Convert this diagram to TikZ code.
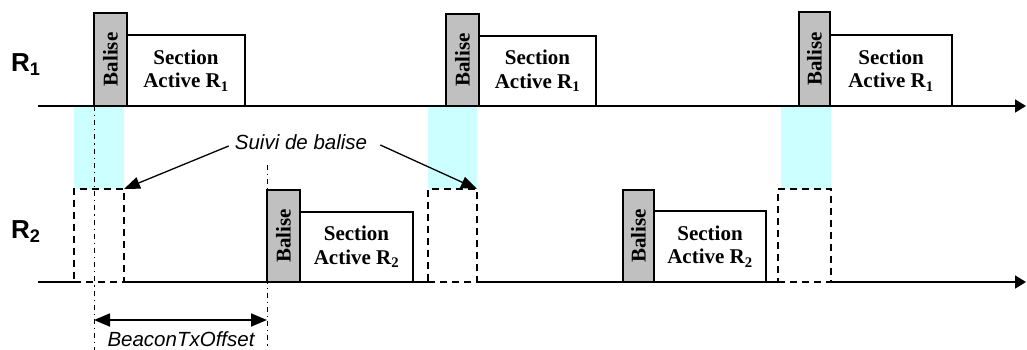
\documentclass[tikz,border=0pt]{standalone}
\usepackage{fontspec}
\setmainfont{Liberation Serif}
\setsansfont{Liberation Sans}
\usetikzlibrary{arrows.meta}
\definecolor{lightcyan}{HTML}{CCFFFF}
\definecolor{balgray}{HTML}{C0C0C0}
\tikzset{
  balisebox/.style={draw=black, line width=1.6pt, fill=balgray, inner sep=0pt, outer sep=0pt, anchor=south west, minimum width=33pt, minimum height=93pt},
  baltext/.style={rotate=90, font=\fontsize{21}{23}\selectfont\bfseries, inner sep=0pt},
  secbox/.style={draw=black, line width=1.6pt, fill=white, inner sep=0pt, outer sep=0pt, anchor=south west, align=center, minimum height=71pt, font=\fontsize{21}{23.5}\selectfont\bfseries},
  dashbox/.style={draw=black, line width=1.8pt, dash pattern=on 7pt off 5pt, inner sep=0pt, outer sep=0pt, anchor=south west, minimum height=93pt},
  cyanbox/.style={fill=lightcyan, draw=none, inner sep=0pt, outer sep=0pt, anchor=south west, minimum height=83pt},
  axis/.style={line width=1.8pt, -{Triangle[length=11pt,width=13pt]}},
  axseg/.style={line width=1.8pt},
  rlabel/.style={font=\fontsize{26}{28}\selectfont\sffamily\bfseries, anchor=base west, inner sep=0pt},
  note/.style={font=\fontsize{20.5}{22}\selectfont\sffamily\itshape, inner sep=0pt},
  ptr/.style={line width=1.3pt, -{Triangle[length=16pt,width=12pt]}},
  dimarrow/.style={line width=1.8pt, {Triangle[length=16pt,width=13pt]}-{Triangle[length=16pt,width=13pt]}},
  dashdot/.style={line width=1pt, dash pattern=on 5pt off 4pt on 1.2pt off 4pt}
}
\begin{document}
\begin{tikzpicture}[x=1pt,y=-1pt]
\useasboundingbox (0,0) rectangle (1027,350);
% cyan zones
\node[cyanbox, minimum width=50pt] (c1) at (74,189) {};
\node[cyanbox, minimum width=49pt] (c2) at (428,189) {};
\node[cyanbox, minimum width=50pt] (c3) at (781,189) {};
% coordinates
\coordinate (r1start) at (38,106);
\coordinate (r1end) at (1026,106);
\coordinate (r2start) at (38,282);
\coordinate (r2end) at (1026,282);
\coordinate (bottom) at (0,350);
\coordinate (dimy) at (0,320);
% R1 axis
\draw[axis] (r1start) -- (r1end);
% R1 boxes
\node[balisebox] (b1) at (94,106) {};
\node[baltext] at (b1.center) {Balise};
\node[secbox, minimum width=118pt, minimum height=71pt] (s1) at (b1.south east) {Section\\Active R\textsubscript{1}};
\node[balisebox, minimum height=92pt] (b2) at (446,106) {};
\node[baltext] at (b2.center) {Balise};
\node[secbox, minimum width=117pt, minimum height=70pt] (s2) at (b2.south east) {Section\\Active R\textsubscript{1}};
\node[balisebox, minimum width=31pt, minimum height=94pt] (b5) at (799,106) {};
\node[baltext] at (b5.center) {Balise};
\node[secbox, minimum width=122pt, minimum height=71pt] (s5) at (b5.south east) {Section\\Active R\textsubscript{1}};
% R2 dashed boxes
\node[dashbox, minimum width=50pt] (d1) at (74,282) {};
\node[dashbox, minimum width=49pt] (d2) at (428,282) {};
\node[dashbox, minimum width=53pt] (d3) at (778,282) {};
% R2 axis segments
\draw[axseg] (r2start) -- (d1.south west);
\draw[axseg] (d1.south east) -- (d2.south west);
\draw[axseg] (d2.south east) -- (d3.south west);
\draw[axis] (d3.south east) -- (r2end);
% R2 boxes
\node[balisebox, minimum height=92pt] (b3) at (267,282) {};
\node[baltext] at (b3.center) {Balise};
\node[secbox, minimum width=113pt, minimum height=70pt] (s3) at (b3.south east) {Section\\Active R\textsubscript{2}};
\node[balisebox, minimum width=31pt, minimum height=92pt] (b4) at (623,282) {};
\node[baltext] at (b4.center) {Balise};
\node[secbox, minimum width=112pt, minimum height=71pt] (s4) at (b4.south east) {Section\\Active R\textsubscript{2}};
% labels
\node[rlabel] (R1) at (11,72) {R\textsubscript{1}};
\node[rlabel] (R2) at (11,238) {R\textsubscript{2}};
% dash-dot reference lines
\draw[dashdot] (b1.south west) -- (b1.south west |- bottom);
\draw[dashdot] ([yshift=25pt]b3.north west) -- (b3.south west |- bottom);
% offset dimension
\draw[dimarrow] (b1.south west |- dimy) -- (b3.south west |- dimy);
\node[note] (off) at (181,339) {BeaconTxOffset};
% Suivi de balise
\node[note] (suivi) at (301,142) {Suivi de balise};
\draw[ptr] ([xshift=-6pt,yshift=-4pt]suivi.west) -- (d1.north east);
\draw[ptr] ([xshift=13pt,yshift=-3pt]suivi.east) -- (d2.north east);
\end{tikzpicture}
\end{document}
